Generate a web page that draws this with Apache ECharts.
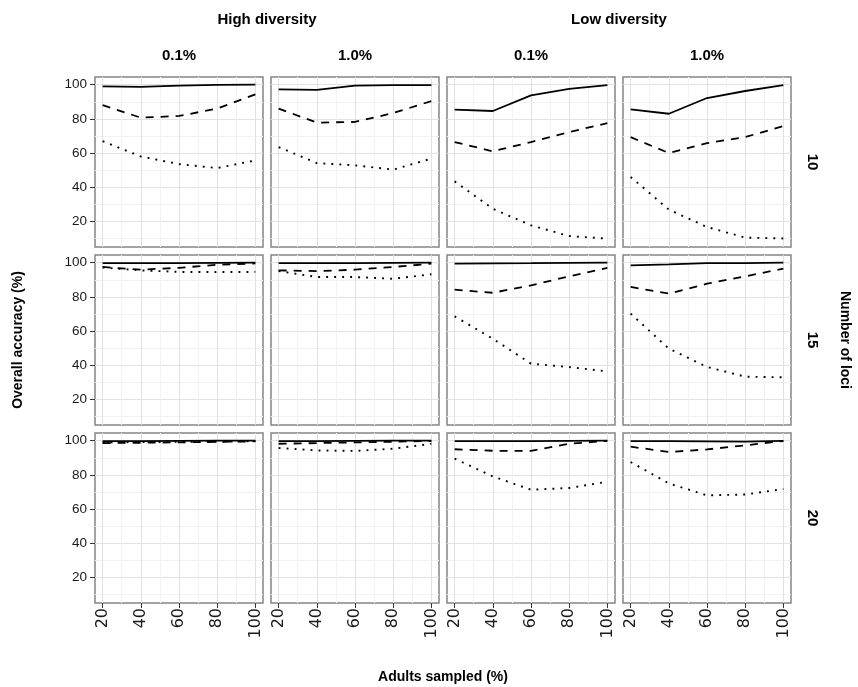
<!DOCTYPE html>
<html><head><meta charset="utf-8">
<script src="https://cdn.jsdelivr.net/npm/echarts@6/dist/echarts.min.js"></script>
<style>html,body{margin:0;padding:0;background:#fff}#c{width:858px;height:687px}</style>
</head><body><div id="c"></div>
<script>
// ---- data ----
const adultsSampled = [20, 40, 60, 80, 100];
const xTickValues = [20, 40, 60, 80, 100];
const yTickValues = [20, 40, 60, 80, 100];
const diversityLabels = ['High diversity', 'Low diversity'];
const rateLabels = ['0.1%', '1.0%', '0.1%', '1.0%'];
const lociLabels = ['10', '15', '20'];

// each array: 4 panels (High 0.1%, High 1.0%, Low 0.1%, Low 1.0%)
const loci10_solid = [
  [99, 98.7, 99.4, 99.9, 100],
  [97.3, 97, 99.4, 99.7, 99.8],
  [85.4, 84.6, 93.7, 97.6, 99.8],
  [85.5, 83, 92.2, 96.3, 99.8]
];
const loci10_dashed = [
  [88, 80.7, 81.7, 86, 94.3],
  [86, 77.8, 78.2, 83.4, 90.4],
  [66.4, 61, 66.4, 72.3, 77.5],
  [69.3, 60, 65.8, 69.3, 75.8]
];
const loci10_dotted = [
  [67, 58, 53.5, 51.2, 55.7],
  [63.5, 54.1, 52.8, 50.3, 56.7],
  [43.4, 27.4, 17.7, 11.4, 9.9],
  [46, 26.9, 16.7, 10.5, 10]
];
const loci15_solid = [
  [99.7, 99.7, 99.8, 99.9, 100],
  [99.7, 99.7, 99.8, 99.9, 100],
  [99.4, 99.6, 99.7, 99.9, 100],
  [98.4, 99, 99.7, 99.8, 100]
];
const loci15_dashed = [
  [97.5, 95.9, 97, 98.8, 99.6],
  [95.5, 95.1, 95.9, 97.5, 99.4],
  [84.2, 82.4, 86.7, 92, 97],
  [85.8, 81.9, 87.7, 92, 96.5]
];
const loci15_dotted = [
  [97.2, 95.5, 94.6, 94.5, 94.6],
  [95.1, 91.6, 91.6, 90.6, 93.2],
  [68.6, 55.5, 40.9, 38.9, 36.4],
  [70.2, 49.7, 39, 33.3, 32.9]
];
const loci20_solid = [
  [99.8, 99.8, 99.9, 100, 100],
  [99.8, 99.8, 99.9, 100, 100],
  [99.8, 99.8, 99.8, 99.9, 100],
  [99.8, 99.7, 99.6, 99.5, 99.9]
];
const loci20_dashed = [
  [98.6, 98.8, 99, 99.3, 99.6],
  [98.2, 98.6, 99, 99.4, 99.8],
  [95, 94.1, 94, 98.2, 99.9],
  [96.5, 93.4, 94.9, 97.3, 99.8]
];
const loci20_dotted = [
  [99, 99.2, 99.3, 99.4, 99.8],
  [95.7, 94.3, 94, 95.3, 98.2],
  [89.5, 79.1, 71.3, 72.3, 76],
  [87.5, 75, 68, 68.5, 71.7]
];

// ---- layout ----
const rowsData = [
  [loci10_solid, loci10_dashed, loci10_dotted],
  [loci15_solid, loci15_dashed, loci15_dotted],
  [loci20_solid, loci20_dashed, loci20_dotted]
];
const lefts = [95, 271, 447, 623];
const tops = [77, 255, 433];
const W = 168, H = 170;
const XMIN = 16, XMAX = 104, YMIN = 5, YMAX = 104.5;
const FONT = '"Liberation Sans", Arial, Helvetica, sans-serif';
const XFONT = '"DejaVu Sans", sans-serif';
const lineTypes = [
  { type: 'solid', width: 1.8 },
  { type: [8, 7], width: 1.8 },
  { type: [1.9, 6.1], width: 1.9 }
];
const T = 'rgba(0,0,0,0)';
const MAJ = '#e2e2e2', MIN = '#f2f2f2';
// x gridline axis: ticks every 2 from 16 -> index%10: 2 major(20,40..), 7 minor(30,50..)
const xGridColors = [T, T, MAJ, T, T, T, T, MIN, T, T];
// y gridline axis: ticks every 1 from 5 -> index%20: 5 minor(10,30..), 15 major(20,40..)
const yGridColors = [];
for (let i = 0; i < 20; i++) yGridColors.push(i === 5 ? MIN : (i === 15 ? MAJ : T));

const grids = [], xAxes = [], yAxes = [], series = [];
for (let r = 0; r < 3; r++) {
  for (let c = 0; c < 4; c++) {
    const gi = grids.length;
    grids.push({
      left: lefts[c], top: tops[r], width: W, height: H,
      show: true, backgroundColor: '#fff', borderColor: '#858585', borderWidth: 1.5,
      containLabel: false, outerBoundsMode: 'none'
    });
    // gridline axes
    xAxes.push({
      type: 'value', gridIndex: gi, min: XMIN, max: XMAX, interval: 2,
      axisLine: { show: false }, axisTick: { show: false }, axisLabel: { show: false },
      splitLine: { show: true, lineStyle: { color: xGridColors, width: 1.1 } }
    });
    yAxes.push({
      type: 'value', gridIndex: gi, min: YMIN, max: YMAX, interval: 1,
      axisLine: { show: false }, axisTick: { show: false }, axisLabel: { show: false },
      splitLine: { show: true, lineStyle: { color: yGridColors, width: 1.1 } }
    });
    // data axes
    const bottom = r === 2, leftCol = c === 0;
    const dxIdx = xAxes.length;
    xAxes.push({
      type: 'value', gridIndex: gi, min: XMIN, max: XMAX, position: 'bottom',
      axisLine: { show: false }, splitLine: { show: false },
      axisTick: { show: bottom, customValues: xTickValues, length: 5, lineStyle: { color: '#333', width: 1 } },
      axisLabel: { show: bottom, customValues: xTickValues, rotate: 90, margin: 5,
        fontSize: 16, color: '#1a1a1a', fontFamily: XFONT }
    });
    const dyIdx = yAxes.length;
    yAxes.push({
      type: 'value', gridIndex: gi, min: YMIN, max: YMAX, position: 'left',
      axisLine: { show: false }, splitLine: { show: false },
      axisTick: { show: leftCol, customValues: yTickValues, length: 5, lineStyle: { color: '#333', width: 1 } },
      axisLabel: { show: leftCol, customValues: yTickValues, margin: 8,
        fontSize: 13.5, color: '#1a1a1a', fontFamily: FONT }
    });
    for (let s = 0; s < 3; s++) {
      const vals = rowsData[r][s][c];
      series.push({
        type: 'line', xAxisIndex: dxIdx, yAxisIndex: dyIdx,
        data: adultsSampled.map((x, i) => [x, vals[i]]),
        symbol: 'none', silent: true, animation: false, clip: true, z: 5,
        lineStyle: { color: '#000', width: lineTypes[s].width, type: lineTypes[s].type, cap: 'butt' }
      });
    }
  }
}

const txt = (text, x, y, size, rot) => ({
  type: 'text', x: x, y: y, rotation: rot || 0, silent: true,
  style: { text: text, fontSize: size, fontWeight: 'bold', fontFamily: FONT, fill: '#000',
    align: 'center', verticalAlign: 'middle' }
});
const graphics = [];
graphics.push(txt(diversityLabels[0], (lefts[0] + lefts[1] + W) / 2, 20, 15));
graphics.push(txt(diversityLabels[1], (lefts[2] + lefts[3] + W) / 2, 20, 15));
for (let c = 0; c < 4; c++) graphics.push(txt(rateLabels[c], lefts[c] + W / 2, 56, 15));
for (let r = 0; r < 3; r++) graphics.push(txt(lociLabels[r], 812, tops[r] + H / 2, 15, -Math.PI / 2));
graphics.push(txt('Number of loci', 845, (tops[0] + tops[2] + H) / 2, 14, -Math.PI / 2));
graphics.push(txt('Overall accuracy (%)', 18, (tops[0] + tops[2] + H) / 2, 14, Math.PI / 2));
graphics.push(txt('Adults sampled (%)', (lefts[0] + lefts[3] + W) / 2, 677, 14));

const chart = echarts.init(document.getElementById('c'), null, { renderer: 'canvas' });
chart.setOption({
  animation: false,
  backgroundColor: '#fff',
  grid: grids, xAxis: xAxes, yAxis: yAxes, series: series,
  graphic: graphics
});
</script></body></html>
